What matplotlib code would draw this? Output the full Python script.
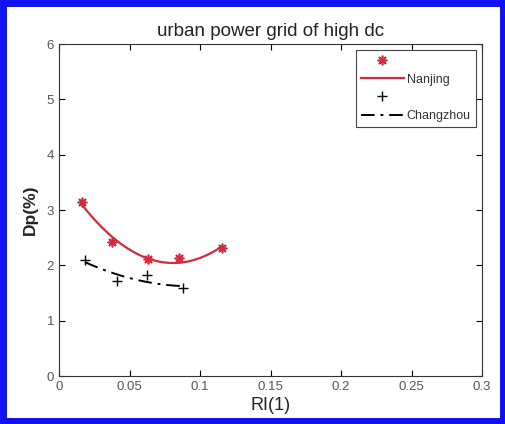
import numpy as np
import matplotlib.pyplot as plt
from matplotlib.patches import Rectangle

plt.rcParams['font.family'] = ['Liberation Sans', 'DejaVu Sans']

# measured points
nanjing_ri = [0.0163, 0.0376, 0.0630, 0.0850, 0.1156]
nanjing_dp = [3.15, 2.42, 2.12, 2.13, 2.31]
changzhou_ri = [0.0185, 0.0410, 0.0624, 0.0880]
changzhou_dp = [2.10, 1.71, 1.82, 1.59]

x_ticks = [0, 0.05, 0.1, 0.15, 0.2, 0.25, 0.3]
x_ticklabels = ['0', '0.05', '0.1', '0.15', '0.2', '0.25', '0.3']
y_ticks = [0, 1, 2, 3, 4, 5, 6]

red = '#d42a3c'

fig = plt.figure(figsize=(5.06, 4.24), dpi=100)
ax = fig.add_axes([0.1166, 0.1132, 0.836, 0.7828])

# quadratic fits
pn = np.polyfit(nanjing_ri, nanjing_dp, 2)
xn = np.linspace(min(nanjing_ri), max(nanjing_ri), 100)
pc = np.polyfit(changzhou_ri, changzhou_dp, 2)
xc = np.linspace(min(changzhou_ri), max(changzhou_ri), 100)

h1, = ax.plot(nanjing_ri, nanjing_dp, ls='none', marker=(8, 2, 0), ms=7, mew=1.2, color=red)
h2, = ax.plot(xn, np.polyval(pn, xn), color=red, lw=1.6)
h3, = ax.plot(changzhou_ri, changzhou_dp, ls='none', marker='+', ms=7, mew=1.0, color='black')
h4, = ax.plot(xc, np.polyval(pc, xc), color='black', lw=1.4, ls=(0, (7, 3, 1.5, 3)))

ax.set_xlim(0, 0.3)
ax.set_ylim(0, 6)
ax.set_xticks(x_ticks)
ax.set_xticklabels(x_ticklabels)
ax.set_yticks(y_ticks)
ax.tick_params(direction='in', top=True, right=True, labelsize=9.5, labelcolor='#555555',
               length=4, width=0.8)
for s in ax.spines.values():
    s.set_linewidth(0.8)
    s.set_color('#333333')

ax.set_title('urban power grid of high dc', fontsize=13.5, pad=6, color='#222222')
ax.set_xlabel('RI(1)', fontsize=13, labelpad=3, color='#222222')
ax.set_ylabel('Dp(%)', fontsize=12.5, labelpad=6, fontweight='bold', color='#222222')

leg = ax.legend([h1, h2, h3, h4], ['', 'Nanjing', '', 'Changzhou'],
                loc='upper right', fontsize=9, handlelength=3.5, handletextpad=0.2,
                labelspacing=0.5, borderaxespad=0.5, borderpad=0.4, fancybox=False,
                framealpha=1, edgecolor='#444444')
leg.get_frame().set_linewidth(0.8)
for t in leg.get_texts():
    t.set_color('#333333')

# blue frame around the whole figure
fig.patches.append(Rectangle((0.006, 0.007), 0.988, 0.986, transform=fig.transFigure,
                             fill=False, edgecolor='#1010f0', linewidth=5))

fig.savefig('out.png', dpi=100)
